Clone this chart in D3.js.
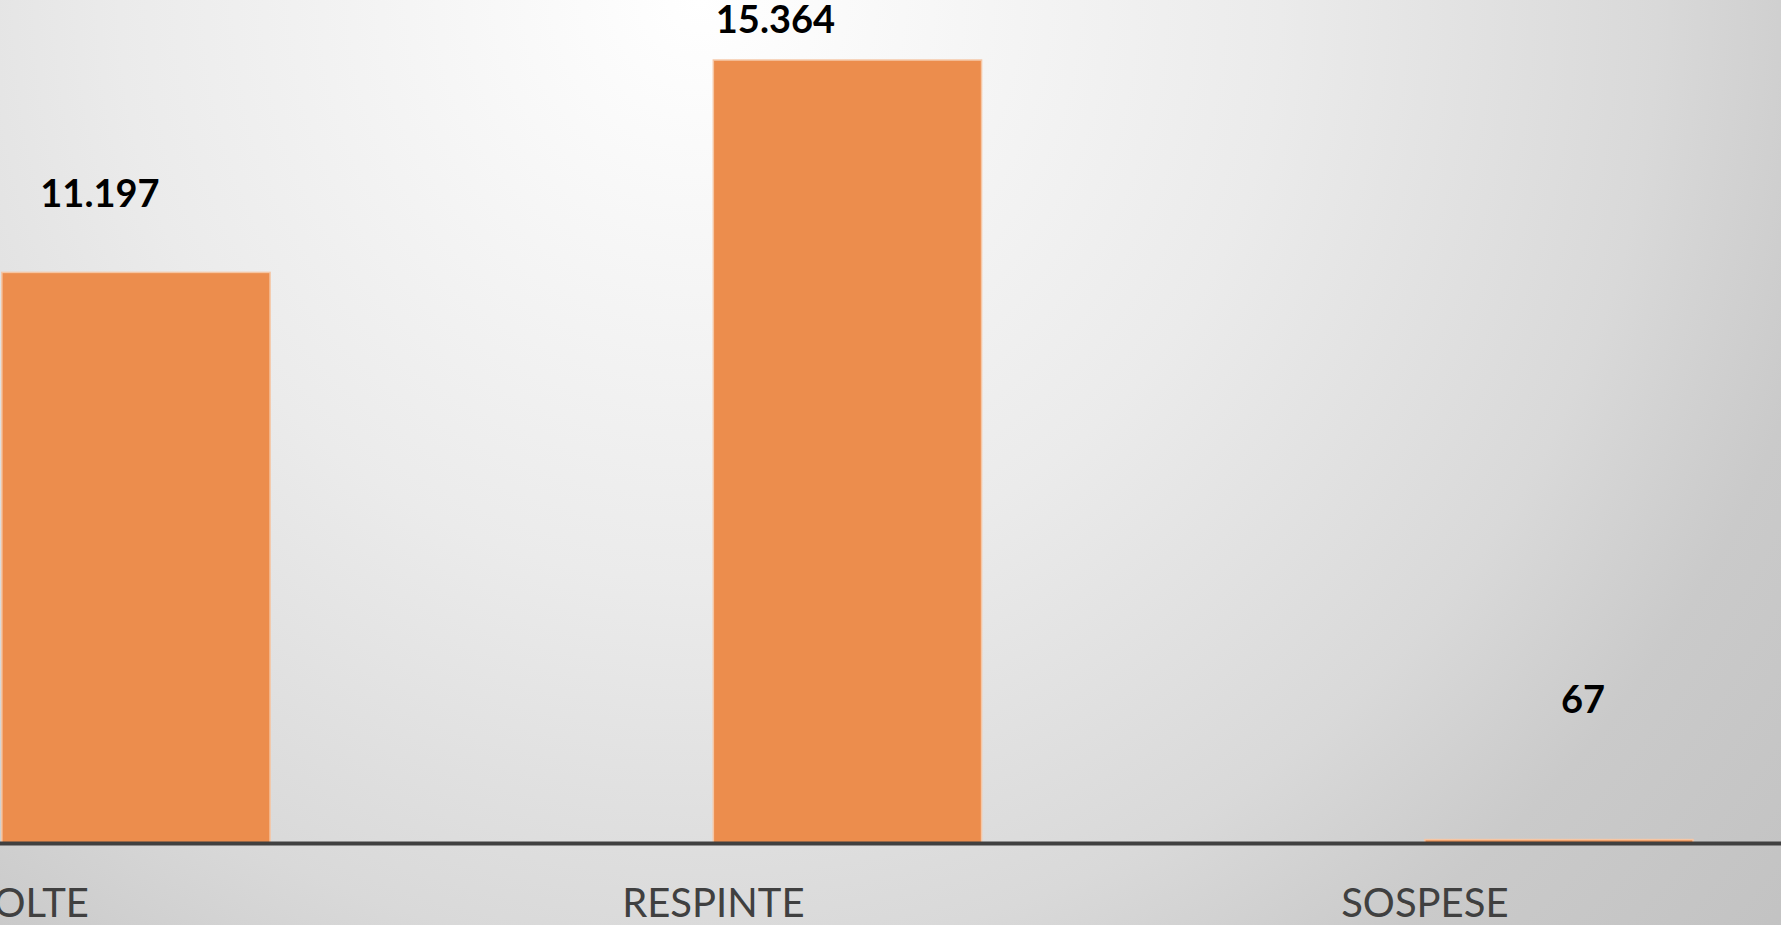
<!DOCTYPE html>
<html>
<head>
<meta charset="utf-8">
<script src="https://cdn.jsdelivr.net/npm/d3@7"></script>
<style>
  html, body { margin: 0; padding: 0; overflow: hidden; }
  svg { display: block; }
</style>
</head>
<body>
<div id="chart"></div>
<script>
// data
var categories = ["ACCOLTE", "RESPINTE", "SOSPESE"];
var values = [11197, 15364, 67];
var valueLabels = ["11.197", "15.364", "67"];

var width = 1781;
var height = 925;
var baseY = 843;

var svg = d3.select("#chart")
    .append("svg")
    .attr("width", width)
    .attr("height", height);

// background gradient
var defs = svg.append("defs");
var grad = defs.append("radialGradient")
    .attr("id", "bg")
    .attr("gradientUnits", "userSpaceOnUse")
    .attr("cx", 700).attr("cy", 0).attr("r", 1450);
grad.append("stop").attr("offset", "0").attr("stop-color", "#ffffff");
grad.append("stop").attr("offset", "0.4").attr("stop-color", "#ebebeb");
grad.append("stop").attr("offset", "0.66").attr("stop-color", "#d9d9d9");
grad.append("stop").attr("offset", "0.8").attr("stop-color", "#cacaca");
grad.append("stop").attr("offset", "1").attr("stop-color", "#c2c2c2");

svg.append("rect")
    .attr("width", width)
    .attr("height", height)
    .attr("fill", "url(#bg)");

// scales
var x = d3.scaleBand()
    .domain(categories)
    .range([-219.8, 1914.7])
    .paddingInner(0.623)
    .paddingOuter(0.3115);

var y = d3.scaleLinear()
    .domain([0, 16000])
    .range([baseY, baseY - 16000 * 0.05096]);

// bars
svg.selectAll("rect.bar")
    .data(values)
    .enter()
    .append("rect")
    .attr("class", "bar")
    .attr("x", function (d, i) { return x(categories[i]); })
    .attr("y", function (d) { return y(d); })
    .attr("width", x.bandwidth())
    .attr("height", function (d) { return baseY - y(d); })
    .attr("fill", "#ec8d4d")
    .attr("stroke", "#f6c6a4")
    .attr("stroke-width", 1.5);

// x axis
var axis = svg.append("g")
    .attr("transform", "translate(0," + baseY + ")")
    .call(d3.axisBottom(x).tickSize(0).tickSizeOuter(0));

axis.select(".domain")
    .attr("stroke", "#404040")
    .attr("stroke-width", 4);

axis.selectAll("text")
    .attr("dx", -x.bandwidth() / 2)
    .attr("dy", 0)
    .attr("y", 74)
    .style("font-family", "Lato, 'Open Sans', sans-serif")
    .style("font-size", "40px")
    .attr("fill", "#404040");

// value labels (placed roughly like the original slide)
var labelDx = [-36, -72, 24];
var labelDy = [-65, -27, -127];

svg.selectAll("text.val")
    .data(values)
    .enter()
    .append("text")
    .attr("class", "val")
    .attr("x", function (d, i) { return x(categories[i]) + x.bandwidth() / 2 + labelDx[i]; })
    .attr("y", function (d, i) { return y(d) + labelDy[i]; })
    .attr("text-anchor", "middle")
    .style("font-family", "Lato, 'Open Sans', sans-serif")
    .style("font-weight", "bold")
    .style("font-size", "38px")
    .attr("fill", "#000000")
    .text(function (d, i) { return valueLabels[i]; });
</script>
</body>
</html>
